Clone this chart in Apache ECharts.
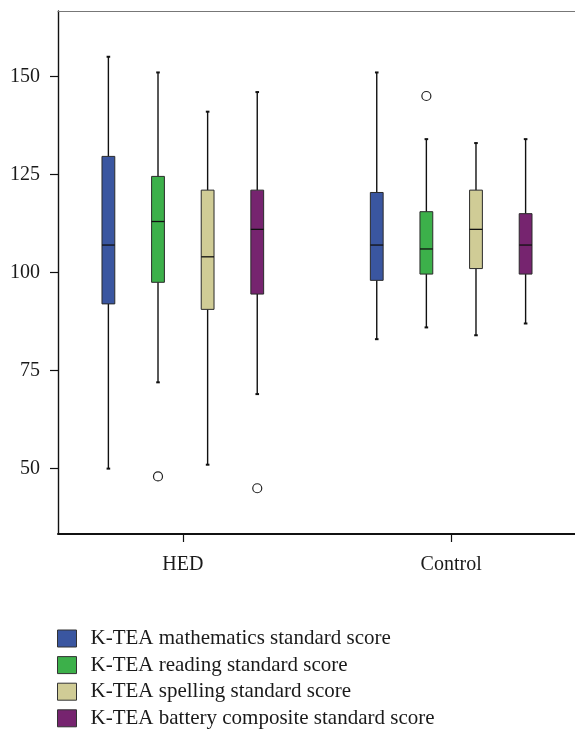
<!DOCTYPE html>
<html>
<head>
<meta charset="utf-8">
<script src="https://cdn.jsdelivr.net/npm/echarts@6/dist/echarts.min.js"></script>
<style>
html,body{margin:0;padding:0;background:#fff;}
#chart{width:575px;height:730px;}
</style>
</head>
<body>
<div id="chart"></div>
<script>
// ---- data ----
const categories = ['HED', 'Control'];
const seriesNames = [
  'K-TEA mathematics standard score',
  'K-TEA reading standard score',
  'K-TEA spelling standard score',
  'K-TEA battery composite standard score'
];
const seriesColors = ['#3a56a0', '#3cb04a', '#d0cc96', '#76246f'];
// [min, Q1, median, Q3, max] per category (HED, Control)
const mathScores      = [[50, 92, 107, 129.6, 155], [83, 98, 107, 120.4, 151]];
const readingScores   = [[72, 97.5, 113, 124.5, 151], [86, 99.6, 106, 115.5, 134]];
const spellingScores  = [[51, 90.6, 104, 121, 141], [84, 101, 111, 121, 133]];
const compositeScores = [[69, 94.5, 111, 121, 146], [87, 99.6, 107, 115, 134]];
// outliers per category (HED, Control)
const mathOutliers      = [[], []];
const readingOutliers   = [[48], [145]];
const spellingOutliers  = [[], []];
const compositeOutliers = [[45], []];
const yTicks = [50, 75, 100, 125, 150];

// ---- build ----
const allScores = [mathScores, readingScores, spellingScores, compositeScores];
const allOutliers = [mathOutliers, readingOutliers, spellingOutliers, compositeOutliers];
const groupSpread = 0.1849; // distance between boxes in a group (axis units)
const FONT = 'Liberation Serif';
const X_MIN = -0.4651, X_MAX = 1.4614;

function xPos(seriesIdx, catIdx) {
  return catIdx + (seriesIdx - (seriesNames.length - 1) / 2) * groupSpread;
}

function renderBox(params, api) {
  const x = api.value(0);
  const pMin = api.coord([x, api.value(1)]);
  const pQ1 = api.coord([x, api.value(2)]);
  const pMed = api.coord([x, api.value(3)]);
  const pQ3 = api.coord([x, api.value(4)]);
  const pMax = api.coord([x, api.value(5)]);
  const cx = pMin[0];
  const hw = 6.4, cap = 1.8;
  const lineStyle = {stroke: '#111', lineWidth: 1.4};
  return {
    type: 'group',
    children: [
      {type: 'line', shape: {x1: cx, y1: pMax[1], x2: cx, y2: pQ3[1]}, style: lineStyle},
      {type: 'line', shape: {x1: cx, y1: pQ1[1], x2: cx, y2: pMin[1]}, style: lineStyle},
      {type: 'line', shape: {x1: cx - cap, y1: pMax[1], x2: cx + cap, y2: pMax[1]}, style: {stroke: '#111', lineWidth: 2}},
      {type: 'line', shape: {x1: cx - cap, y1: pMin[1], x2: cx + cap, y2: pMin[1]}, style: {stroke: '#111', lineWidth: 2}},
      {type: 'rect', shape: {x: cx - hw, y: pQ3[1], width: hw * 2, height: pQ1[1] - pQ3[1]},
        style: {fill: api.visual('color'), stroke: '#2a2a2a', lineWidth: 1}},
      {type: 'line', shape: {x1: cx - hw, y1: pMed[1], x2: cx + hw, y2: pMed[1]}, style: {stroke: '#111', lineWidth: 1.3}}
    ]
  };
}

const series = [];
seriesNames.forEach(function (name, si) {
  series.push({
    name: name,
    type: 'custom',
    renderItem: renderBox,
    itemStyle: {color: seriesColors[si]},
    encode: {x: 0, y: [1, 2, 3, 4, 5]},
    data: allScores[si].map(function (s, ci) { return [xPos(si, ci)].concat(s); }),
    z: 2
  });
});
const outlierData = [];
allOutliers.forEach(function (perCat, si) {
  perCat.forEach(function (vals, ci) {
    vals.forEach(function (v) { outlierData.push([xPos(si, ci), v]); });
  });
});
series.push({
  name: 'outliers',
  type: 'scatter',
  symbol: 'circle',
  symbolSize: 9,
  itemStyle: {color: '#fff', borderColor: '#222', borderWidth: 1.2, opacity: 1},
  data: outlierData,
  z: 3
});

const chart = echarts.init(document.getElementById('chart'), null, {renderer: 'canvas'});
chart.setOption({
  animation: false,
  backgroundColor: '#fff',
  grid: {left: 58, top: 11, right: 0, bottom: 196, show: false},
  xAxis: [{
    type: 'value',
    position: 'bottom',
    min: X_MIN,
    max: X_MAX,
    splitLine: {show: false},
    axisLine: {show: true, onZero: false, lineStyle: {color: '#111', width: 2}},
    axisTick: {show: true, length: 8, lineStyle: {color: '#111', width: 1.2}, customValues: [0, 1]},
    axisLabel: {
      customValues: [0, 1],
      margin: 21,
      fontFamily: FONT, fontSize: 20, color: '#1a1a1a',
      formatter: function (v) { return categories[Math.round(v)]; }
    }
  }, {
    type: 'value',
    position: 'top',
    min: X_MIN,
    max: X_MAX,
    splitLine: {show: false},
    axisLine: {show: true, onZero: false, lineStyle: {color: '#777', width: 1.2}},
    axisTick: {show: false},
    axisLabel: {show: false}
  }],
  yAxis: {
    type: 'value',
    min: 100 - 200 / 3,
    max: 100 + 200 / 3,
    splitLine: {show: false},
    axisLine: {show: true, onZero: false, lineStyle: {color: '#111', width: 1.4}},
    axisTick: {show: true, length: 8, lineStyle: {color: '#111', width: 1.2}, customValues: yTicks},
    axisLabel: {customValues: yTicks, margin: 18, fontFamily: FONT, fontSize: 20, color: '#1a1a1a'}
  },
  legend: {
    data: seriesNames,
    orient: 'vertical',
    left: 57,
    top: 628,
    height: 120,
    padding: 0,
    icon: 'rect',
    itemWidth: 19,
    itemHeight: 17,
    itemGap: 5.6,
    itemStyle: {borderColor: '#333', borderWidth: 1},
    textStyle: {fontFamily: FONT, fontSize: 21, color: '#1a1a1a', lineHeight: 17, padding: [0, 0, 0, 9]}
  },
  series: series
});
</script>
</body>
</html>
